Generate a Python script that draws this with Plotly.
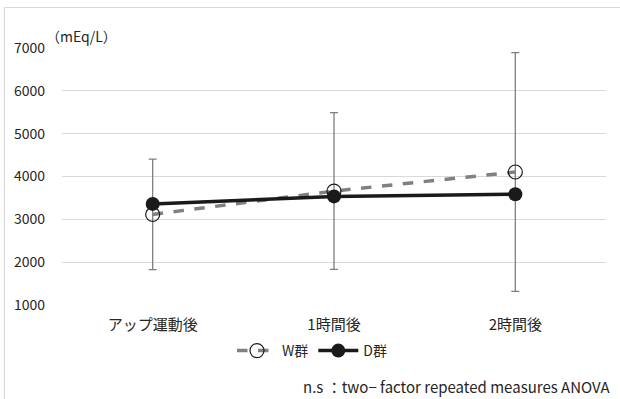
import plotly.graph_objects as go

categories = ["アップ運動後", "1時間後", "2時間後"]
w_values = [3115, 3660, 4105]
w_sd = [1290, 1830, 2785]
d_values = [3360, 3535, 3585]
y_ticks = [1000, 2000, 3000, 4000, 5000, 6000, 7000]

FONT = "Noto Sans CJK JP"
W, H = 620, 399
L, R, T, B = 62, 14, 48, 94
pw, ph = W - L - R, H - T - B

def px_x(p):
    return (p - L) / pw

def px_y(p):
    return (H - B - p) / ph

fig = go.Figure()
fig.add_trace(go.Scatter(
    x=categories, y=w_values, name="W群", mode="lines+markers",
    line=dict(color="#808080", width=3.5, dash="dash"),
    marker=dict(symbol="circle-open", size=14, color="#1a1a1a", line=dict(width=1.2)),
    error_y=dict(type="data", array=w_sd, visible=True, color="#7f7f7f", thickness=1.3, width=4),
))
fig.add_trace(go.Scatter(
    x=categories, y=d_values, name="D群", mode="lines+markers",
    line=dict(color="#1a1a1a", width=3.5),
    marker=dict(symbol="circle", size=14, color="#1a1a1a"),
))

fig.update_layout(
    width=W, height=H,
    margin=dict(l=L, r=R, t=T, b=B),
    paper_bgcolor="white", plot_bgcolor="white",
    font=dict(family=FONT, size=14, color="#262626"),
    showlegend=True,
    legend=dict(orientation="h", x=px_x(312), xanchor="center", y=px_y(351), yanchor="middle",
                font=dict(family=FONT, size=14, color="#262626"), itemwidth=40,
                traceorder="normal", bgcolor="rgba(0,0,0,0)"),
    xaxis=dict(range=[-0.5, 2.5], showgrid=False, showline=False, zeroline=False, ticks="",
               tickfont=dict(family=FONT, size=15, color="#262626"), ticklabelstandoff=9),
    yaxis=dict(range=[1000, 7000], tickvals=y_ticks, showgrid=True, gridcolor="#d9d9d9",
               gridwidth=1.2, zeroline=False, showline=False, ticks="",
               tickfont=dict(family=FONT, size=14, color="#262626"), ticklabelstandoff=16),
    annotations=[
        dict(text="（mEq/L）", xref="paper", yref="paper", x=px_x(44), y=px_y(36),
             xanchor="left", yanchor="middle", showarrow=False,
             font=dict(family=FONT, size=14, color="#262626")),
        dict(text="n.s ：two− factor repeated measures ANOVA", xref="paper", yref="paper",
             x=px_x(612), y=px_y(386), xanchor="right", yanchor="middle", showarrow=False,
             font=dict(family=FONT, size=15, color="#262626")),
    ],
    shapes=[
        dict(type="line", xref="paper", yref="paper", x0=px_x(4.5), x1=px_x(640),
             y0=px_y(7.5), y1=px_y(7.5), line=dict(color="#d9d9d9", width=1.2)),
        dict(type="line", xref="paper", yref="paper", x0=px_x(4.5), x1=px_x(4.5),
             y0=px_y(7.5), y1=px_y(420), line=dict(color="#d9d9d9", width=1.2)),
    ],
)

fig.write_html("out.html")
